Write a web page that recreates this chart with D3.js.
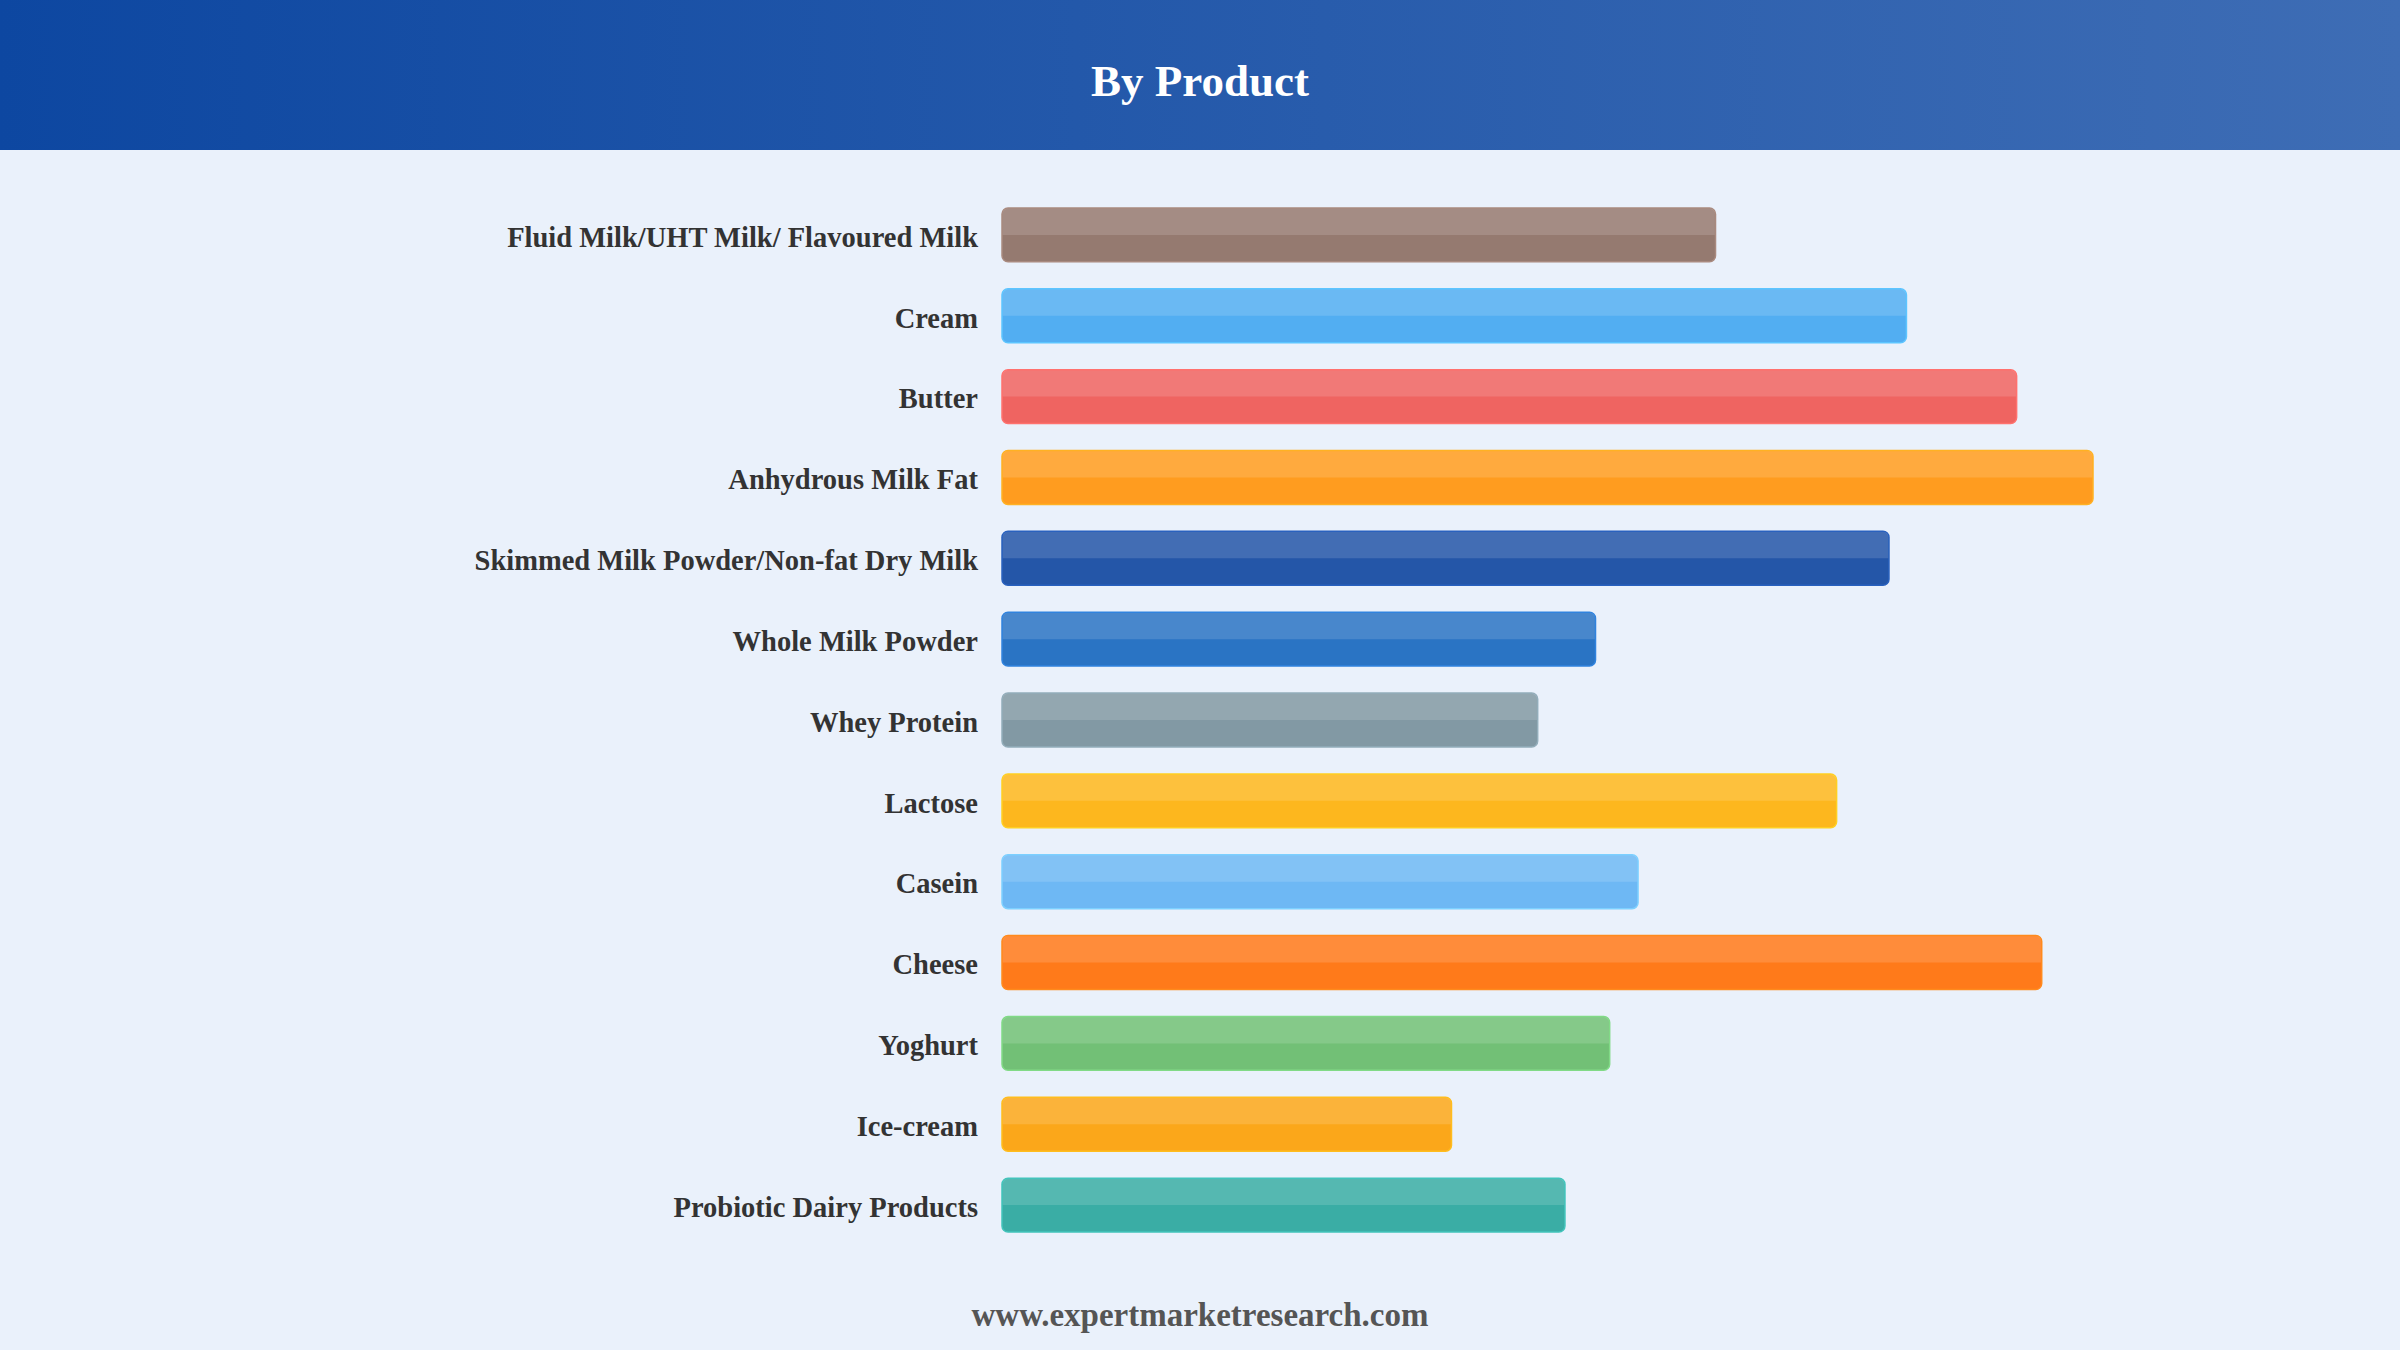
<!DOCTYPE html>
<html>
<head>
<meta charset="utf-8">
<script src="https://cdn.jsdelivr.net/npm/d3@7"></script>
<style>
  html, body { margin: 0; padding: 0; background: #eaf1fb; }
  #chart { width: 2400px; height: 1350px; }
</style>
</head>
<body>
<div id="chart"></div>
<script>
const categories = [
  'Fluid Milk/UHT Milk/ Flavoured Milk',
  'Cream',
  'Butter',
  'Anhydrous Milk Fat',
  'Skimmed Milk Powder/Non-fat Dry Milk',
  'Whole Milk Powder',
  'Whey Protein',
  'Lactose',
  'Casein',
  'Cheese',
  'Yoghurt',
  'Ice-cream',
  'Probiotic Dairy Products'
];
// relative sizes (no axis in the original)
const values = [65.4, 82.9, 93.0, 100, 81.3, 54.4, 49.1, 76.5, 58.3, 95.3, 55.7, 41.2, 51.6];
const colors = [
  '#957a70', '#52aef2', '#ef6461', '#ff9c1f', '#2456a8', '#2a74c4', '#8299a4',
  '#fdb71e', '#6eb8f4', '#ff7a1a', '#72c076', '#fba71a', '#3aada5'
];
const title = 'By Product';
const source = 'www.expertmarketresearch.com';

const W = 2400, H = 1350;
const svg = d3.select('#chart').append('svg')
  .attr('width', W)
  .attr('height', H);

const defs = svg.append('defs');
const grad = defs.append('linearGradient')
  .attr('id', 'hdr')
  .attr('x1', '0%').attr('x2', '100%').attr('y1', '0%').attr('y2', '0%');
grad.append('stop').attr('offset', '0%').attr('stop-color', '#0d47a1');
grad.append('stop').attr('offset', '100%').attr('stop-color', '#3e6db5');

svg.append('rect').attr('width', W).attr('height', H).attr('fill', '#eaf1fb');
svg.append('rect').attr('width', W).attr('height', 150).attr('fill', 'url(#hdr)');

svg.append('text')
  .attr('x', W / 2).attr('y', 96)
  .attr('text-anchor', 'middle')
  .style('font-family', '"Liberation Serif", "Times New Roman", serif')
  .style('font-weight', 'bold')
  .style('font-size', '45px')
  .style('fill', '#ffffff')
  .text(title);

const x = d3.scaleLinear().domain([0, 100]).range([1002, 2093]);
const y = d3.scaleBand().domain(categories).range([181, 1259]).padding(1 / 3);

const rows = svg.selectAll('.row')
  .data(categories.map((c, i) => ({ key: c, value: values[i], color: colors[i] })))
  .enter().append('g')
  .attr('class', 'row');

rows.append('rect')
  .attr('x', x(0))
  .attr('y', d => y(d.key))
  .attr('width', d => x(d.value) - x(0))
  .attr('height', y.bandwidth())
  .attr('rx', 6)
  .attr('fill', d => d.color)
  .attr('stroke', d => d3.color(d.color).brighter(0.35))
  .attr('stroke-width', 1.5);

// lighter top half
rows.append('path')
  .attr('d', d => {
    const x0 = x(0) + 0.75, x1 = x(d.value) - 0.75, y0 = y(d.key) + 0.75, h = y.bandwidth() / 2 - 0.75, r = 5;
    return `M${x0},${y0 + h} V${y0 + r} Q${x0},${y0} ${x0 + r},${y0} H${x1 - r} Q${x1},${y0} ${x1},${y0 + r} V${y0 + h} Z`;
  })
  .attr('fill', '#ffffff')
  .attr('fill-opacity', 0.14);

rows.append('text')
  .attr('x', x(0) - 24)
  .attr('y', d => y(d.key) + y.bandwidth() / 2 + 1.5)
  .attr('dy', '0.36em')
  .attr('text-anchor', 'end')
  .style('font-family', '"Liberation Serif", "Times New Roman", serif')
  .style('font-weight', 'bold')
  .style('font-size', '28.5px')
  .style('fill', '#333333')
  .text(d => d.key);

svg.append('text')
  .attr('x', W / 2).attr('y', 1326)
  .attr('text-anchor', 'middle')
  .style('font-family', '"Liberation Serif", "Times New Roman", serif')
  .style('font-weight', 'bold')
  .style('font-size', '33px')
  .style('fill', '#555555')
  .text(source);
</script>
</body>
</html>
